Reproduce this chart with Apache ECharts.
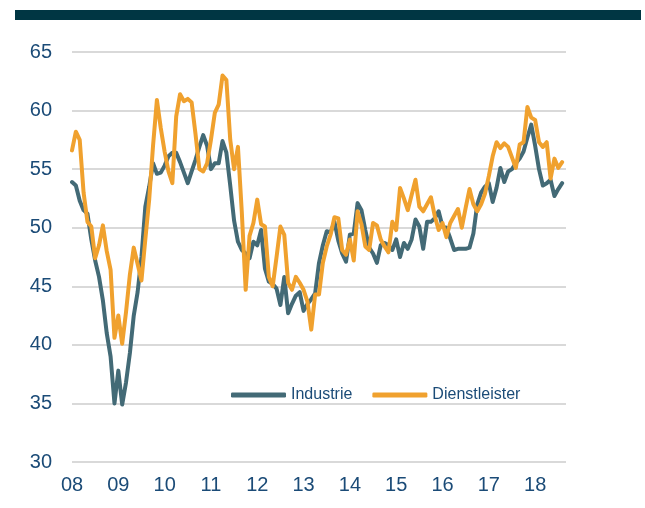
<!DOCTYPE html>
<html>
<head>
<meta charset="utf-8">
<script src="https://cdn.jsdelivr.net/npm/echarts@6/dist/echarts.min.js"></script>
<style>
  html, body { margin: 0; padding: 0; background: #fff; }
  #chart { width: 645px; height: 508px; }
</style>
</head>
<body>
<div id="chart"></div>
<script>
// Monatswerte Jan 2008 - Aug 2018
var years = ['08', '09', '10', '11', '12', '13', '14', '15', '16', '17', '18'];
var monthsShown = 9; // 2018 axis runs to Sep

var industrie = [
  53.9, 53.6, 52.3, 51.5, 51.2, 49.0, 47.2, 45.8, 43.8, 41.0, 39.0, 35.0,
  37.8, 34.9, 36.8, 39.3, 42.5, 44.5, 47.5, 51.8, 53.5, 55.5, 54.6, 54.7,
  55.3, 56.1, 56.4, 56.4, 55.6, 54.7, 53.8, 54.8, 55.8, 56.9, 57.9, 57.0,
  55.0, 55.5, 55.5, 57.4, 56.4, 53.6, 50.6, 48.8, 48.1, 47.8, 47.4, 48.8,
  48.5, 49.8, 46.5, 45.4, 45.2, 44.8, 43.4, 45.8, 42.7, 43.5, 44.2, 44.5,
  42.9, 43.5, 43.9, 44.4, 47.0, 48.5, 49.7, 49.6, 50.5, 48.9, 47.8, 47.1,
  49.4, 49.5, 52.1, 51.5, 49.8, 48.3, 47.8, 47.0, 48.5, 48.7, 48.5, 48.1,
  49.0, 47.5, 48.7, 48.2, 49.0, 50.7, 50.1, 48.2, 50.5, 50.5, 50.8, 51.4,
  50.1, 50.0, 49.1, 48.1, 48.2, 48.2, 48.2, 48.3, 49.5, 52.0, 53.0, 53.5,
  53.8, 52.2, 53.4, 55.1, 53.9, 54.8, 55.0, 55.5, 55.9, 56.5, 57.7, 58.8,
  57.0, 55.0, 53.6, 53.8, 54.1, 52.7, 53.3, 53.8
];

var dienstleister = [
  56.6, 58.2, 57.5, 53.0, 50.5, 50.1, 47.4, 48.5, 50.2, 48.0, 46.4, 40.6,
  42.5, 40.1, 42.8, 46.0, 48.3, 46.9, 45.5, 49.0, 52.4, 57.0, 60.9, 58.5,
  56.5, 54.8, 53.8, 59.5, 61.4, 60.8, 61.0, 60.7, 58.0, 55.0, 54.8, 55.5,
  57.5, 59.8, 60.5, 63.0, 62.6, 57.5, 55.0, 56.9, 51.3, 44.7, 49.3, 50.4,
  52.4, 50.3, 50.1, 45.8, 45.0, 47.5, 50.1, 49.4, 45.3, 44.7, 45.8, 45.3,
  44.7, 43.7, 41.3, 44.3, 44.3, 47.0, 48.4, 49.4, 50.9, 50.8, 48.1, 47.7,
  49.0, 47.2, 51.4, 50.3, 48.4, 48.1, 50.4, 50.2, 49.0, 48.4, 47.9, 50.5,
  49.8, 53.4, 52.5, 51.5, 52.8, 54.1, 51.8, 51.4, 52.0, 52.6, 51.0, 49.8,
  50.4, 49.2, 50.4, 51.0, 51.6, 50.0, 51.7, 53.3, 52.0, 51.4, 52.0, 52.9,
  54.4, 56.1, 57.3, 56.8, 57.2, 56.9, 56.0, 55.1, 57.1, 57.3, 60.3, 59.4,
  59.2, 57.3, 56.9, 57.3, 54.2, 55.9, 55.1, 55.6
];

// Kategorien: ein Eintrag je Monat
var months = [];
years.forEach(function (y, yi) {
  var n = (yi === years.length - 1) ? monthsShown : 12;
  for (var m = 1; m <= n; m++) {
    months.push(y + '-' + (m < 10 ? '0' + m : m));
  }
});

var textColor = '#1b4b77';
var font = 'Liberation Sans, Arial, sans-serif';

var myChart = echarts.init(document.getElementById('chart'));
var option = {
  animation: false,
  backgroundColor: '#fff',
  graphic: [
    {
      type: 'rect',
      shape: { x: 15, y: 10, width: 626, height: 10 },
      style: { fill: '#003643' }
    }
  ],
  grid: {
    left: 72,
    right: 79,
    top: 52,
    bottom: 46,
    outerBoundsMode: 'none'
  },
  legend: {
    left: 226,
    top: 382,
    itemWidth: 55,
    itemHeight: 5,
    itemGap: 20,
    icon: 'roundRect',
    textStyle: { color: textColor, fontSize: 16, fontFamily: font },
    data: ['Industrie', 'Dienstleister']
  },
  xAxis: {
    type: 'category',
    data: months,
    boundaryGap: false,
    axisLine: { show: false },
    axisTick: { show: false },
    splitLine: { show: false },
    axisLabel: {
      interval: 0,
      margin: 13,
      color: textColor,
      fontSize: 20,
      fontFamily: font,
      formatter: function (v, i) {
        return i % 12 === 0 ? years[i / 12] : '';
      }
    }
  },
  yAxis: {
    type: 'value',
    min: 30,
    max: 65,
    interval: 5,
    axisLine: { show: false },
    axisTick: { show: false },
    axisLabel: { margin: 20, color: textColor, fontSize: 20, fontFamily: font },
    splitLine: { lineStyle: { color: '#d9d9d9', width: 2 } }
  },
  series: [
    {
      name: 'Industrie',
      type: 'line',
      data: industrie,
      symbol: 'none',
      color: '#436a76',
      lineStyle: { width: 4, cap: 'round', join: 'round' }
    },
    {
      name: 'Dienstleister',
      type: 'line',
      data: dienstleister,
      symbol: 'none',
      color: '#f0a12e',
      lineStyle: { width: 4, cap: 'round', join: 'round' }
    }
  ]
};
option && myChart.setOption(option);
</script>
</body>
</html>
